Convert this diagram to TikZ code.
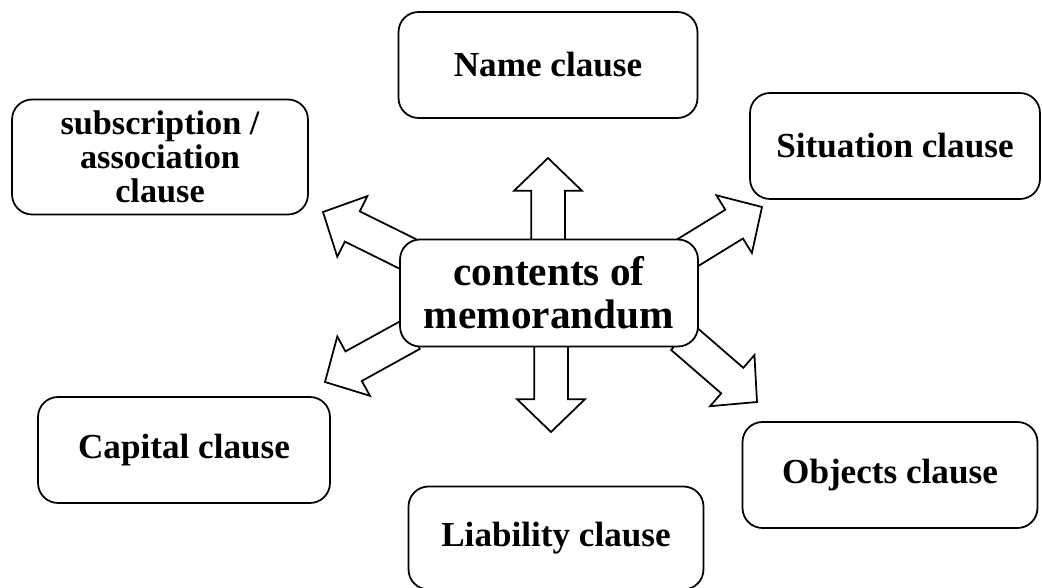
\documentclass[tikz,border=0pt]{standalone}
\usepackage{fontspec}
\setmainfont{Liberation Serif}
\usetikzlibrary{positioning, shapes, backgrounds}

\begin{document}
\begin{tikzpicture}[
    x = 0.02cm, y = -0.02cm,
    clauseNode/.append style = {draw, rectangle, rounded corners = 0.4cm, line width = 1pt, fill = white,
      minimum width = 5.9cm, minimum height = 2.12cm, align = center,
      font = \fontsize{20}{18}\selectfont\bfseries},
    blockArrow/.append style = {draw, fill = white, line width = 1pt, single arrow, inner xsep = 0pt, inner ysep = 0.32cm, outer sep = 0pt,
      single arrow head extend = 0.34cm, single arrow tip angle = 92, anchor = tip}
    ]
      \useasboundingbox (0,0) rectangle (1042,588);

      \node[clauseNode, minimum width = 5.96cm, minimum height = 2.14cm, font = \fontsize{23.5}{24.5}\selectfont\bfseries] (memo) at (549,293) {contents of\\memorandum};

      \node[clauseNode, minimum width = 5.98cm] (name) at (548,65) {Name clause};
      \node[clauseNode, minimum width = 5.8cm] (situation) at (895,146) {Situation clause};
      \node[clauseNode, minimum width = 5.92cm, minimum height = 2.3cm, font = \fontsize{19.5}{19.5}\selectfont\bfseries] (subscription) at (160,157) {subscription /\\association\\clause};
      \node[clauseNode, minimum width = 5.84cm] (capital) at (184,450) {Capital clause};
      \node[clauseNode, minimum height = 2.06cm] (liability) at (556,538) {Liability clause};
      \node[clauseNode] (objects) at (890,475) {Objects clause};

      %% Arrows
      \begin{pgfonlayer}{background}
        \node[blockArrow, minimum height = 1.84cm, rotate = 90] (toName) at (548,158) {};
        \node[blockArrow, minimum height = 1.9cm, rotate = -90] (toLiability) at (551,432) {};
        \node[blockArrow, minimum height = 2cm, rotate = 153.7] (toSubscription) at (323,212) {};
        \node[blockArrow, minimum height = 1.92cm, rotate = 31.6] (toSituation) at (762,207) {};
        \node[blockArrow, minimum height = 1.98cm, rotate = 208.9] (toCapital) at (325,382) {};
        \node[blockArrow, minimum height = 1.98cm, rotate = -40.9] (toObjects) at (757,402) {};
      \end{pgfonlayer}
    \end{tikzpicture}
\end{document}
